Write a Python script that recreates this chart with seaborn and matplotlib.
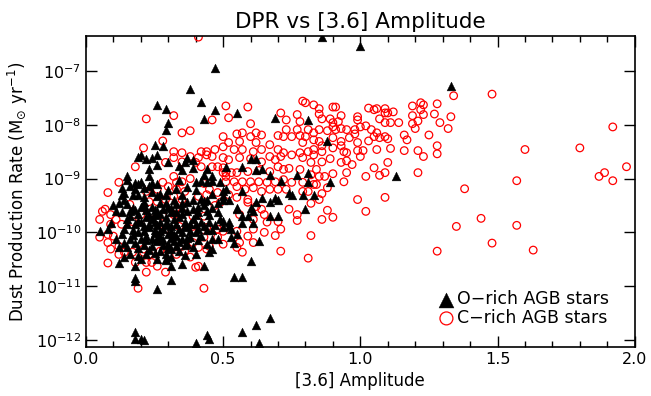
import numpy as np
import pandas as pd
import matplotlib
matplotlib.use('Agg')
import matplotlib.pyplot as plt
import seaborn as sns
from matplotlib.ticker import MultipleLocator, LogLocator, NullLocator

# (amplitude, log10 DPR)
o_rich_points = [
    (0.86, -6.37), (1.00, -6.54), (0.47, -6.94), (0.38, -7.33), (0.42, -7.57), (0.26, -7.63), (0.29, -7.70),
    (0.47, -7.72), (0.43, -7.89), (0.30, -7.96), (0.29, -8.09), (0.55, -7.78), (0.69, -7.87), (0.81, -7.91),
    (1.33, -7.28), (0.88, -8.31), (0.77, -8.93), (0.81, -8.89), (1.13, -8.96),
    (0.25, -8.37), (0.28, -8.39), (0.19, -8.59), (0.20, -8.57), (0.24, -8.61), (0.26, -8.56), (0.26, -8.74),
    (0.30, -8.70), (0.34, -8.76), (0.37, -8.61), (0.39, -8.65), (0.35, -8.85), (0.39, -8.80), (0.51, -8.78),
    (0.57, -8.78), (0.60, -8.63), (0.62, -8.63), (0.64, -8.83), (0.67, -8.94), (0.43, -8.94), (0.46, -8.96),
    (0.23, -8.83), (0.15, -8.96),
    (0.18, -11.85), (0.18, -11.98), (0.20, -11.98), (0.21, -12.00), (0.40, -12.06), (0.44, -11.91),
    (0.45, -11.98), (0.57, -11.85), (0.62, -11.72), (0.67, -11.59), (0.63, -12.06), (0.26, -11.06),
    (0.31, -10.89), (0.18, -10.85), (0.18, -10.91), (0.54, -10.83), (0.57, -10.83), (0.60, -10.54),
    (0.43, -10.63), (0.35, -10.59), (0.31, -10.63), (0.29, -10.52), (0.12, -10.57),
    (0.71, -9.04), (0.69, -9.37), (0.70, -9.69), (0.80, -9.56), (0.79, -9.30), (0.83, -9.31), (0.81, -9.07),
    (0.89, -9.07), (0.74, -9.26), (0.75, -9.31), (0.62, -8.85), (0.51, -9.19), (0.50, -9.24), (0.57, -9.24),
    (0.50, -9.39), (0.52, -9.39), (0.55, -9.57), (0.60, -9.54), (0.62, -9.44), (0.64, -9.37), (0.67, -9.43),
    (0.70, -9.39), (0.67, -9.70), (0.57, -9.70), (0.59, -9.70), (0.50, -9.78), (0.52, -9.80), (0.57, -9.83),
    (0.61, -9.83), (0.53, -9.93), (0.55, -10.04), (0.54, -10.19), (0.63, -10.17), (0.50, -9.91),
    (0.23, -8.96), (0.44, -8.83), (0.19, -9.11), (0.20, -9.07), (0.26, -9.11), (0.34, -9.02), (0.40, -9.06),
    (0.44, -9.06), (0.49, -9.06), (0.13, -9.17), (0.11, -9.61), (0.08, -9.94), (0.05, -9.98), (0.55, -9.54),
    (0.61, -9.61), (0.52, -9.89), (0.53, -10.09), (0.48, -10.13), (0.46, -10.31), (0.45, -10.37),
    (0.40, -10.41), (0.37, -10.22), (0.31, -10.31), (0.29, -10.50),
    (0.22, -8.63), (0.36, -8.69), (0.15, -9.02), (0.16, -9.13), (0.18, -9.09), (0.23, -9.13), (0.24, -9.09),
    (0.27, -9.28), (0.37, -9.15), (0.42, -9.04), (0.46, -9.04), (0.46, -9.28), (0.50, -9.33), (0.43, -9.41),
    (0.17, -9.31), (0.19, -9.30), (0.21, -9.35), (0.13, -9.31), (0.14, -9.26), (0.10, -9.50), (0.09, -9.83),
    (0.13, -9.63), (0.15, -9.76), (0.16, -9.70), (0.18, -9.59), (0.20, -9.52), (0.22, -9.59), (0.24, -9.52),
    (0.26, -9.61), (0.28, -9.57), (0.30, -9.52), (0.33, -9.48), (0.35, -9.54), (0.37, -9.44), (0.39, -9.57),
    (0.41, -9.52), (0.44, -9.61), (0.46, -9.54), (0.48, -9.63), (0.49, -9.76), (0.22, -9.72), (0.24, -9.76),
    (0.27, -9.80), (0.29, -9.72), (0.32, -9.76), (0.34, -9.72), (0.36, -9.80), (0.39, -9.76), (0.42, -9.80),
    (0.45, -9.81), (0.18, -9.85), (0.21, -9.89), (0.23, -9.91), (0.26, -9.87), (0.28, -9.93), (0.31, -9.89),
    (0.34, -9.94), (0.36, -9.89), (0.38, -9.98), (0.41, -9.93), (0.19, -10.00), (0.22, -10.06), (0.25, -10.02),
    (0.27, -10.07), (0.30, -10.04), (0.33, -10.07), (0.35, -10.13), (0.38, -10.09), (0.42, -10.07),
    (0.46, -10.13), (0.16, -10.13), (0.13, -10.04), (0.18, -10.19), (0.21, -10.24), (0.24, -10.13),
    (0.28, -10.24), (0.32, -10.17), (0.36, -10.24), (0.12, -10.28), (0.15, -10.28), (0.19, -10.44),
    (0.18, -10.63), (0.26, -10.50), (0.29, -10.41), (0.30, -10.22), (0.33, -10.26),
    (0.17, -9.55), (0.20, -9.80), (0.25, -9.68), (0.31, -9.63), (0.35, -9.66), (0.40, -9.68), (0.27, -9.45),
    (0.32, -9.40), (0.21, -9.43), (0.15, -9.47), (0.42, -9.38), (0.30, -9.87), (0.25, -9.95), (0.20, -10.13),
    (0.26, -10.17), (0.31, -10.10), (0.40, -10.00), (0.44, -9.95), (0.14, -9.93), (0.11, -10.12),
    (0.23, -10.32), (0.27, -10.35), (0.34, -10.35), (0.16, -10.40), (0.38, -9.84), (0.29, -9.31),
    (0.24, -9.25), (0.33, -9.20), (0.12, -9.45), (0.47, -9.86),
    (0.14, -9.40), (0.16, -9.60), (0.19, -9.65), (0.21, -9.50), (0.23, -9.68), (0.25, -9.58), (0.27, -9.65),
    (0.29, -9.45), (0.31, -9.55), (0.33, -9.62), (0.35, -9.45), (0.37, -9.60), (0.39, -9.40), (0.41, -9.62),
    (0.43, -9.50), (0.45, -9.68), (0.15, -9.85), (0.17, -9.95), (0.19, -9.78), (0.21, -9.97), (0.23, -9.84),
    (0.25, -9.80), (0.27, -9.97), (0.29, -9.83), (0.31, -9.98), (0.33, -9.85), (0.35, -9.99), (0.37, -9.90),
    (0.40, -9.85), (0.43, -9.88), (0.46, -9.95), (0.14, -10.20), (0.17, -10.05), (0.19, -10.30),
    (0.22, -10.15), (0.24, -10.25), (0.26, -10.10), (0.28, -10.14), (0.30, -10.30), (0.32, -10.05),
    (0.34, -10.18), (0.37, -10.10), (0.39, -10.28), (0.41, -10.15), (0.44, -10.22), (0.18, -9.20),
    (0.21, -9.18), (0.26, -9.33), (0.30, -9.22), (0.35, -9.30), (0.40, -9.22), (0.44, -9.40), (0.48, -9.45),
    (0.14, -10.45), (0.22, -10.40), (0.25, -10.38), (0.31, -10.45), (0.36, -10.42), (0.20, -10.50),
]

c_rich_points = [
    (0.41, -6.37), (1.34, -7.46), (1.48, -7.43), (1.92, -8.04), (1.60, -8.46), (1.80, -8.43), (1.97, -8.78),
    (1.87, -8.96), (1.89, -8.89), (1.92, -9.04), (1.57, -9.04), (1.38, -9.19), (1.35, -9.89), (1.28, -10.35),
    (1.44, -9.74), (1.57, -9.87), (1.48, -10.20), (1.63, -10.33),
    (1.03, -7.69), (1.05, -7.72), (1.06, -7.70), (1.09, -7.70), (1.09, -7.78), (1.10, -7.78), (1.12, -7.76),
    (1.19, -7.65), (1.22, -7.59), (1.23, -7.63), (1.22, -7.72), (1.23, -7.81), (1.28, -7.61), (1.27, -7.80),
    (1.33, -7.85), (1.32, -8.07), (1.29, -7.96), (1.19, -7.83), (1.19, -7.98), (1.20, -8.07), (1.21, -7.93),
    (0.99, -7.85), (1.00, -8.04), (1.02, -8.02), (1.04, -8.09), (1.03, -8.30), (1.06, -8.15), (1.07, -8.24),
    (1.09, -8.22), (1.10, -8.26), (1.09, -7.96), (1.11, -7.96), (1.14, -7.96), (1.07, -7.89), (1.16, -8.19),
    (1.17, -8.28), (1.25, -8.19), (1.28, -8.39), (1.28, -8.54), (1.23, -8.59), (1.21, -8.48), (1.16, -8.48),
    (0.99, -8.48), (1.01, -8.48), (1.00, -8.59), (1.06, -8.46), (1.10, -8.70), (1.09, -8.89), (1.07, -8.94),
    (1.05, -8.80), (1.02, -8.96), (1.21, -8.89), (1.09, -9.35), (0.99, -9.39), (1.02, -9.61), (0.95, -8.89),
    (0.79, -7.56), (0.83, -7.63), (0.85, -7.70), (0.77, -7.81), (0.90, -7.67), (0.91, -7.67), (0.93, -7.83),
    (0.89, -7.89), (0.71, -7.78), (0.73, -7.91), (0.86, -7.89), (0.70, -8.20), (0.73, -8.09), (0.77, -8.09),
    (0.81, -8.09), (0.83, -8.15), (0.85, -8.09), (0.90, -7.96), (0.90, -8.04), (0.93, -8.07), (0.95, -8.09),
    (0.98, -8.17), (1.05, -8.22), (1.11, -8.44), (0.95, -8.52), (0.95, -8.67), (0.97, -8.74), (0.90, -8.91),
    (0.87, -8.96),
    (0.51, -7.65), (0.59, -7.67), (0.52, -7.87), (0.80, -7.59), (0.85, -7.80), (0.92, -7.94), (0.78, -7.94),
    (0.88, -8.11), (0.91, -8.09), (0.98, -8.09), (0.99, -7.91), (0.60, -7.98), (0.72, -8.22), (0.75, -8.22),
    (0.78, -8.20), (0.80, -8.22), (0.83, -8.28), (0.85, -8.31), (0.90, -8.24), (0.93, -8.31), (0.96, -8.24),
    (0.99, -8.33), (0.55, -8.17), (0.57, -8.15), (0.60, -8.22), (0.62, -8.15), (0.64, -8.19), (0.50, -8.22),
    (0.52, -8.33), (0.56, -8.31), (0.62, -8.33), (0.67, -8.37), (0.70, -8.46), (0.72, -8.52), (0.75, -8.56),
    (0.78, -8.52), (0.81, -8.50), (0.83, -8.46), (0.86, -8.50), (0.90, -8.43), (0.94, -8.50), (0.71, -8.59),
    (0.79, -8.61), (0.50, -8.41), (0.54, -8.46), (0.57, -8.46), (0.61, -8.50), (0.64, -8.46), (0.67, -8.59),
    (0.69, -8.65), (0.64, -8.69), (0.60, -8.63), (0.56, -8.61), (0.52, -8.65), (0.50, -8.61), (0.82, -8.70),
    (0.86, -8.69), (0.89, -8.63), (0.93, -8.70), (0.84, -8.83), (0.94, -9.06), (0.85, -8.96), (0.82, -8.93),
    (0.78, -8.83), (0.74, -8.81), (0.72, -8.83), (0.67, -8.87), (0.63, -8.85), (0.59, -8.87), (0.55, -8.89),
    (0.50, -8.89), (0.51, -9.06), (0.54, -9.06), (0.57, -9.06), (0.60, -9.06), (0.63, -9.06), (0.66, -9.07),
    (0.69, -9.06), (0.72, -9.02), (0.75, -9.07), (0.79, -9.07), (0.84, -9.11), (0.88, -9.17), (0.85, -9.39),
    (0.79, -9.24), (0.73, -9.20), (0.67, -9.20), (0.64, -9.24), (0.61, -9.17), (0.58, -9.20), (0.55, -9.15),
    (0.52, -9.30), (0.55, -9.35), (0.59, -9.39), (0.74, -9.57), (0.77, -9.67), (0.77, -9.78), (0.90, -9.72),
    (0.86, -9.76), (0.88, -9.59), (0.62, -9.52), (0.56, -9.67), (0.65, -9.67), (0.70, -9.80), (0.71, -9.94),
    (0.65, -10.00), (0.61, -9.94), (0.59, -10.07), (0.61, -10.19), (0.56, -10.19), (0.57, -10.37),
    (0.82, -10.06), (0.81, -10.48), (0.71, -10.35), (0.86, -9.28), (0.82, -9.46), (0.81, -9.24), (0.83, -9.11),
    (0.69, -10.06),
    (0.22, -7.89), (0.32, -7.83), (0.35, -8.15), (0.38, -8.11), (0.46, -7.91), (0.28, -8.30), (0.21, -8.43),
    (0.18, -8.78), (0.32, -8.50), (0.42, -8.50), (0.47, -8.46), (0.35, -8.52), (0.35, -8.69), (0.40, -8.70),
    (0.42, -8.78), (0.44, -8.56), (0.46, -8.59), (0.48, -8.78), (0.51, -8.89), (0.53, -8.89), (0.70, -8.78),
    (0.32, -8.61), (0.38, -8.59), (0.44, -8.50), (0.41, -8.61), (0.46, -8.78), (0.50, -8.80), (0.29, -8.70),
    (0.32, -8.96), (0.28, -9.07), (0.30, -9.15), (0.33, -9.07), (0.35, -9.06), (0.38, -9.00), (0.43, -9.09),
    (0.12, -9.07), (0.07, -9.57), (0.05, -9.76), (0.05, -10.09), (0.08, -10.19), (0.10, -10.07),
    (0.12, -10.41), (0.14, -10.37), (0.08, -10.57), (0.24, -10.56), (0.21, -10.37), (0.17, -10.37),
    (0.27, -10.35), (0.33, -10.41), (0.36, -10.35), (0.41, -10.63), (0.44, -10.31), (0.48, -10.09),
    (0.48, -9.94), (0.43, -10.09), (0.39, -10.19), (0.35, -10.26), (0.30, -10.31), (0.47, -9.50),
    (0.43, -9.70), (0.39, -9.70), (0.35, -9.63), (0.32, -9.67), (0.28, -9.70), (0.24, -9.63), (0.20, -9.67),
    (0.17, -9.80), (0.13, -9.85), (0.11, -9.76), (0.09, -9.67), (0.22, -9.84), (0.29, -9.94), (0.34, -9.89),
    (0.39, -9.89), (0.44, -9.91), (0.35, -9.39), (0.41, -9.33), (0.44, -9.30), (0.48, -9.26), (0.32, -9.33),
    (0.29, -9.39), (0.26, -9.43), (0.23, -9.43), (0.16, -9.48), (0.45, -9.20), (0.36, -9.24), (0.33, -9.20),
    (0.26, -9.20), (0.22, -9.24),
    (0.08, -9.26), (0.06, -9.61), (0.09, -9.85), (0.08, -10.04), (0.09, -10.31), (0.12, -10.26),
    (0.21, -10.31), (0.23, -10.41), (0.18, -10.56), (0.22, -10.56), (0.26, -10.63), (0.29, -10.74),
    (0.22, -10.74), (0.19, -11.04), (0.43, -11.04), (0.40, -10.65), (0.38, -10.46), (0.41, -10.28),
    (0.45, -10.26), (0.50, -10.22), (0.55, -10.28), (0.55, -9.98), (0.50, -9.98), (0.66, -9.81),
    (0.61, -9.76), (0.64, -9.57), (0.59, -9.44), (0.49, -9.44), (0.70, -9.20), (0.51, -8.96),
    (0.93, -8.39), (0.86, -8.39), (0.83, -8.56), (0.79, -8.33),
]

x_ticks = [0.0, 0.5, 1.0, 1.5, 2.0]
x_ticklabels = ['0.0', '0.5', '1.0', '1.5', '2.0']

o_df = pd.DataFrame(o_rich_points, columns=['amp', 'logdpr'])
o_df['dpr'] = 10.0 ** o_df['logdpr']
c_df = pd.DataFrame(c_rich_points, columns=['amp', 'logdpr'])
c_df['dpr'] = 10.0 ** c_df['logdpr']

sns.set_style('ticks')
plt.rcParams['font.family'] = ['DejaVu Sans']
plt.rcParams['mathtext.fontset'] = 'dejavusans'
plt.rcParams['text.color'] = 'black'
plt.rcParams['axes.labelcolor'] = 'black'

fig, ax = plt.subplots(figsize=(6.51, 3.96), dpi=100)
fig.subplots_adjust(left=0.132, right=0.975, bottom=0.124, top=0.909)

# carbon stars underneath, the O-rich blob sits on top
sns.scatterplot(data=c_df, x='amp', y='dpr', marker='o', s=30, facecolor='none',
                edgecolor='red', linewidth=0.9, ax=ax, label='C\u2212rich AGB stars')
sns.scatterplot(data=o_df, x='amp', y='dpr', marker='^', s=40, color='black',
                edgecolor='black', linewidth=0.3, ax=ax, label='O\u2212rich AGB stars')

ax.set_yscale('log')
ax.set_xlim(0, 2.0)
ax.set_ylim(10 ** -12.13, 10 ** -6.35)

ax.set_xticks(x_ticks)
ax.set_xticklabels(x_ticklabels)
ax.xaxis.set_minor_locator(MultipleLocator(0.1))
ax.yaxis.set_major_locator(LogLocator(base=10, numticks=10))
ax.yaxis.set_minor_locator(NullLocator())

ax.tick_params(which='both', direction='in', top=True, right=True, colors='black',
               labelcolor='black', labelsize=11.5)
ax.tick_params(which='major', length=8, width=1)
ax.tick_params(which='minor', length=4, width=1)
for sp in ax.spines.values():
    sp.set_color('black')
    sp.set_linewidth(1.2)

ax.set_xlabel('[3.6] Amplitude', fontsize=12, color='black')
ax.set_ylabel('Dust Production Rate (M$_{\\odot}$ yr$^{-1}$)', fontsize=12, color='black')
ax.set_title('DPR vs [3.6] Amplitude', fontsize=15.5, color='black')

handles, labels = ax.get_legend_handles_labels()
ax.legend(handles[::-1], labels[::-1], loc='lower right', bbox_to_anchor=(0.975, 0.025),
          frameon=False, fontsize=12.5, markerscale=1.7, handletextpad=0.0,
          labelspacing=0.05, borderpad=0.2, handlelength=1.2)

plt.savefig('out.png', dpi=100)
